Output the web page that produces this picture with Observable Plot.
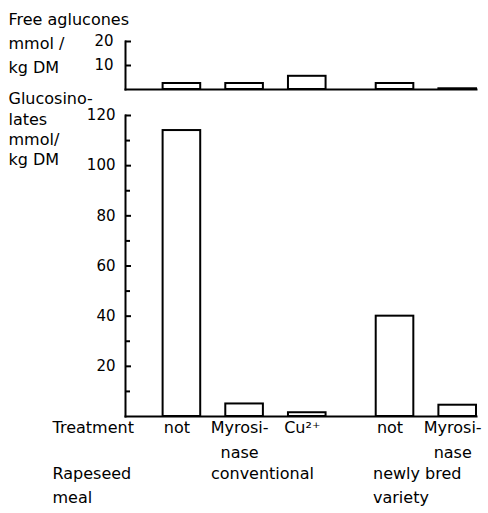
<!DOCTYPE html>
<html><head><meta charset="utf-8">
<script src="https://cdn.jsdelivr.net/npm/d3@7"></script>
<script src="https://cdn.jsdelivr.net/npm/@observablehq/plot@0.6"></script>
<style>
body{margin:0;background:#fff}
#chart{width:488px;height:513px;background:#fff}
#chart svg{display:block}
</style>
</head><body><div id="chart"></div>
<script>
const treatments = ["not", "Myrosi-\nnase", "Cu²⁺", "not", "Myrosi-\nnase"];
const meals = ["conventional", "conventional", "conventional", "newly bred\nvariety", "newly bred\nvariety"];
const mealLabels = ["conventional", "newly bred\nvariety"];
const freeAglucones = [2.5, 2.5, 5.5, 2.5, 0.3];
const glucosinolates = [114, 5, 1.5, 40, 4.5];
const aglTicks = [10, 20];
const glucTicks = [20, 40, 60, 80, 100, 120];
const glucMinorTicks = [10, 30, 50, 70, 90, 110];
const rowLabels = ["Treatment", "Rapeseed\nmeal"];
const topTitle = "Free aglucones\nmmol /\nkg DM";
const bottomTitle = "Glucosino-\nlates\nmmol/\nkg DM";

const GAP = 0.4, HALF = 0.3;
const rows = treatments.map((t, i) => ({
  treatment: t,
  meal: meals[i],
  slot: i + GAP * mealLabels.indexOf(meals[i]),
  agl: freeAglucones[i],
  gluc: glucosinolates[i]
}));
const groupFirst = mealLabels.map(m => rows.find(r => r.meal === m));

const font = "DejaVu Sans";
const svgStyle = `font-family:'${font}';font-size:16px;background:white;color:black;overflow:visible`;
const xScale = {domain: [-0.9, 4.7], axis: null};
const FRAME_W = 488 - 125 - 12;
const tick = (values, len) => Plot.tickY(values, {y: d => d, insetRight: FRAME_W - len, stroke: "black", strokeWidth: 2});

const topPlot = Plot.plot({
  width: 488, height: 92,
  marginLeft: 125, marginRight: 12, marginTop: 41, marginBottom: 3,
  style: svgStyle,
  x: xScale,
  y: {domain: [0, 20]},
  marks: [
    Plot.rect(rows, {x1: d => d.slot - HALF, x2: d => d.slot + HALF, y1: 0, y2: "agl", fill: "white", stroke: "black", strokeWidth: 2}),
    Plot.frame({anchor: "left", stroke: "black", strokeWidth: 2}),
    Plot.frame({anchor: "bottom", stroke: "black", strokeWidth: 2}),
    tick(aglTicks, 6),
    Plot.axisY({ticks: aglTicks, tickSize: 0, tickPadding: 12, label: null, fontSize: 15, tickFormat: d => d}),
    Plot.text([topTitle], {text: d => d, frameAnchor: "top-left", textAnchor: "start", lineAnchor: "top", dx: -117, dy: -34, lineHeight: 1.5, fontSize: 16})
  ]
});

const bottomPlot = Plot.plot({
  width: 488, height: 421,
  marginLeft: 125, marginRight: 12, marginTop: 23, marginBottom: 97,
  style: svgStyle,
  x: xScale,
  y: {domain: [0, 120]},
  marks: [
    Plot.rect(rows, {x1: d => d.slot - HALF, x2: d => d.slot + HALF, y1: 0, y2: "gluc", fill: "white", stroke: "black", strokeWidth: 2}),
    Plot.frame({anchor: "left", stroke: "black", strokeWidth: 2}),
    Plot.frame({anchor: "bottom", stroke: "black", strokeWidth: 2}),
    tick(glucTicks, 6),
    tick(glucMinorTicks, 5),
    Plot.axisY({ticks: glucTicks, tickSize: 0, tickPadding: 10, label: null, fontSize: 15, tickFormat: d => d}),
    Plot.text(rows, {x: "slot", text: "treatment", frameAnchor: "bottom", lineAnchor: "top", dy: -2, dx: -5, lineHeight: 1.6, fontSize: 16}),
    Plot.text([groupFirst[0]], {x: "slot", text: "meal", frameAnchor: "bottom", lineAnchor: "top", textAnchor: "start", dy: 45, dx: 29, lineHeight: 1.5, fontSize: 16}),
    Plot.text([groupFirst[1]], {x: "slot", text: "meal", frameAnchor: "bottom", lineAnchor: "top", textAnchor: "start", dy: 45, dx: -22, lineHeight: 1.5, fontSize: 16}),
    Plot.text([rowLabels[0]], {text: d => d, frameAnchor: "bottom-left", textAnchor: "start", lineAnchor: "top", dx: -73, dy: -2, lineHeight: 1.6, fontSize: 16}),
    Plot.text([rowLabels[1]], {text: d => d, frameAnchor: "bottom-left", textAnchor: "start", lineAnchor: "top", dx: -73, dy: 45, lineHeight: 1.5, fontSize: 16}),
    Plot.text([bottomTitle], {text: d => d, frameAnchor: "top-left", textAnchor: "start", lineAnchor: "top", dx: -117, dy: -26, lineHeight: 1.28, fontSize: 16})
  ]
});

const chart = document.getElementById("chart");
chart.appendChild(topPlot);
chart.appendChild(bottomPlot);
</script>
</body></html>
